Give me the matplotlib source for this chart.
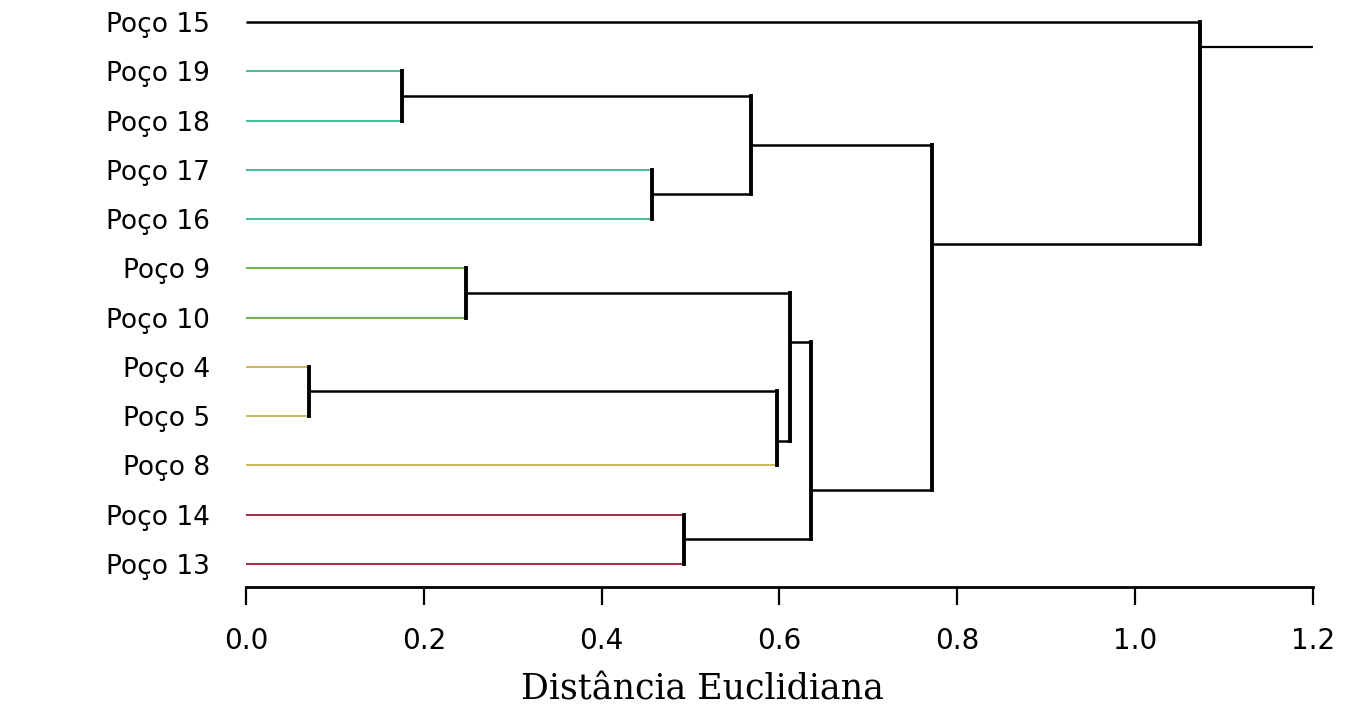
import matplotlib
matplotlib.use("Agg")
import matplotlib.pyplot as plt

# leaves, top to bottom
leaf_labels = ['Poço 15', 'Poço 19', 'Poço 18', 'Poço 17', 'Poço 16', 'Poço 9',
               'Poço 10', 'Poço 4', 'Poço 5', 'Poço 8', 'Poço 14', 'Poço 13']
leaf_group = ['none', 'g1', 'g1', 'g1', 'g1', 'g2',
              'g2', 'g3', 'g3', 'g3', 'g4', 'g4']

# merges (child a, child b, euclidean distance)
merge_names = ['m0', 'm1', 'm2', 'm3', 'm4', 'm5', 'm6', 'm7', 'm8', 'm9', 'm10']
merge_a = ['Poço 4', 'Poço 19', 'Poço 9', 'Poço 17', 'Poço 14', 'm1', 'm0', 'm2', 'm7', 'm5', 'Poço 15']
merge_b = ['Poço 5', 'Poço 18', 'Poço 10', 'Poço 16', 'Poço 13', 'm3', 'Poço 8', 'm6', 'm4', 'm8', 'm9']
merge_h = [0.071, 0.175, 0.247, 0.457, 0.493, 0.568, 0.597, 0.612, 0.636, 0.772, 1.073]
x_max = 1.2

xticks = [0.0, 0.2, 0.4, 0.6, 0.8, 1.0, 1.2]

group_colors = {'none': 'black', 'g1': '#45bb9c', 'g2': '#6cb24a',
                'g3': '#cdb755', 'g4': '#a02a40'}

fig = plt.figure(figsize=(13.62, 7.07), dpi=100)
ax = fig.add_axes([0.1806, 0.1697, 0.7834, 0.827])

# leaf spans for node placement
span = {lab: (i, i) for i, lab in enumerate(leaf_labels)}
height = {lab: 0.0 for lab in leaf_labels}
ypos = {lab: float(i) for i, lab in enumerate(leaf_labels)}
for name, a, b, h in zip(merge_names, merge_a, merge_b, merge_h):
    top, bot = (a, b) if span[a][0] < span[b][0] else (b, a)
    span[name] = (span[top][0], span[bot][1])
    height[name] = h
    ypos[name] = (span[top][1] + span[bot][0]) / 2
    for child in (a, b):
        if child in leaf_labels:
            col = group_colors[leaf_group[leaf_labels.index(child)]]
            lw = 1.4 if col != 'black' else 1.8
        else:
            col, lw = 'black', 1.8
        ax.plot([height[child], h], [ypos[child], ypos[child]], color=col, lw=lw,
                solid_capstyle='butt')
    ax.plot([h, h], [ypos[a], ypos[b]], color='black', lw=2.8, solid_capstyle='projecting')

# tail of the root
root = merge_names[-1]
ax.plot([height[root], x_max], [ypos[root], ypos[root]], color='black', lw=1.6)

ax.set_xlim(0, x_max)
ax.set_ylim(11.47, -0.4)
ax.set_xticks(xticks)
ax.set_xticklabels([f'{t:.1f}' for t in xticks], fontsize=20, family='DejaVu Sans')
ax.set_yticks(range(len(leaf_labels)))
ax.set_yticklabels(leaf_labels, fontsize=19, family='DejaVu Sans')
ax.tick_params(axis='y', length=0, pad=26)
ax.tick_params(axis='x', direction='out', length=13, width=1.6, pad=16)

for s in ['top', 'right', 'left']:
    ax.spines[s].set_visible(False)
ax.spines['bottom'].set_linewidth(2)
ax.spines['bottom'].set_bounds(0, x_max)

fig.text(702 / 1362, 1 - 690 / 707, 'Distância Euclidiana', ha='center', va='center',
         fontsize=25, family='DejaVu Serif')

plt.savefig('out.png', dpi=100)
